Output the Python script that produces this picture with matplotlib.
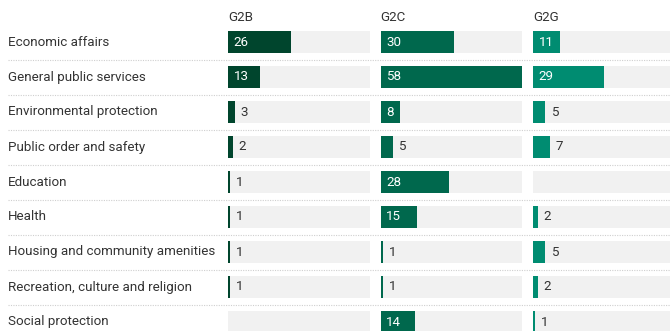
import numpy as np
import matplotlib.pyplot as plt

plt.rcParams['font.family'] = ['Roboto', 'DejaVu Sans']

categories = [
    'Economic affairs',
    'General public services',
    'Environmental protection',
    'Public order and safety',
    'Education',
    'Health',
    'Housing and community amenities',
    'Recreation, culture and religion',
    'Social protection',
]
groups = ['G2B', 'G2C', 'G2G']
g2b = [26, 13, 3, 2, 1, 1, 1, 1, 0]
g2c = [30, 58, 8, 5, 28, 15, 1, 1, 14]
g2g = [11, 29, 5, 7, 0, 2, 5, 2, 1]
colors = ['#00452d', '#00684d', '#008c71']

W, H = 670, 331
fig = plt.figure(figsize=(W / 100, H / 100), dpi=100)

# rows are 35 px apart, first row centred 42 px from the top
row_px = 35.0
top_px = 42.0
ylim = ((H - top_px) / row_px, -top_px / row_px)
y = np.arange(len(categories))
vmax = max(max(g2b), max(g2c), max(g2g))

# full-width layer for row labels, headers and dotted separators
base = fig.add_axes([0, 0, 1, 1])
base.set_xlim(0, W)
base.set_ylim(*ylim)
base.axis('off')
for i, name in enumerate(categories):
    base.text(8, i, name, va='center', ha='left', fontsize=9.6, color='#333333')
base.hlines(y[:-1] + 0.5, 8, W, colors='#cfcfcf', linewidth=0.8,
            linestyles=(0, (1, 1.2)))

panel_left = [228, 380.5, 533]
panel_w = 141.5
for k, (grp, vals) in enumerate(zip(groups, [g2b, g2c, g2g])):
    ax = fig.add_axes([panel_left[k] / W, 0, panel_w / W, 1])
    ax.set_xlim(0, vmax)
    ax.set_ylim(*ylim)
    ax.axis('off')
    ax.barh(y, [vmax] * len(y), height=0.65, color='#f1f1f1', zorder=1)
    ax.barh(y, vals, height=0.65, color=colors[k], zorder=2)
    ax.text(0, -0.71, grp, ha='left', va='center', fontsize=9.6, color='#333333')
    for i, v in enumerate(vals):
        if v == 0:
            continue
        if v >= 8:
            ax.annotate(str(v), (0, i), xytext=(4, 0), textcoords='offset points',
                        va='center', ha='left', fontsize=9.6, color='white', zorder=3)
        else:
            ax.annotate(str(v), (v, i), xytext=(4, 0), textcoords='offset points',
                        va='center', ha='left', fontsize=9.6, color='#333333', zorder=3)

fig.savefig('out.png', dpi=100)
